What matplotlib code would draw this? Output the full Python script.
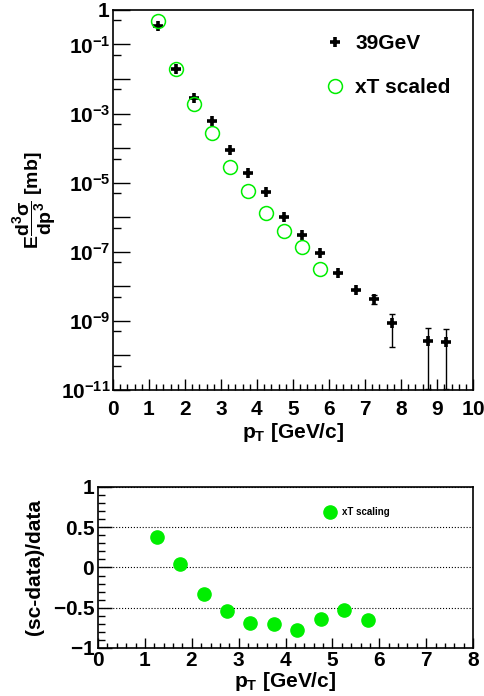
import numpy as np
import matplotlib
matplotlib.use("Agg")
from matplotlib import pyplot as plt
from matplotlib import ticker

plt.rcParams['font.family'] = ['Liberation Sans', 'DejaVu Sans']
plt.rcParams['font.weight'] = 'bold'
plt.rcParams['mathtext.fontset'] = 'custom'
plt.rcParams['mathtext.rm'] = 'Liberation Sans:bold'
plt.rcParams['mathtext.it'] = 'Liberation Sans:bold'
plt.rcParams['mathtext.bf'] = 'Liberation Sans:bold'
plt.rcParams['mathtext.default'] = 'bf'

# measured spectrum at 39 GeV
pt_data = [1.25, 1.75, 2.25, 2.75, 3.25, 3.75, 4.25, 4.75, 5.25, 5.75,
           6.25, 6.75, 7.25, 7.75, 8.75, 9.25]
y_data = [0.34, 0.019, 2.8e-3, 6.0e-4, 8.7e-5, 1.95e-5, 5.5e-6, 1.05e-6,
          3.0e-7, 9.1e-8, 2.5e-8, 7.8e-9, 4.3e-9, 8.7e-10, 2.6e-10, 2.4e-10]
y_err = [0, 0, 0, 0, 0, 0, 0, 0, 0, 0, 0, 0, 1.3e-9, 7.0e-10, 3.6e-10, 3.6e-10]

# xT scaled points
pt_sc = [1.25, 1.75, 2.25, 2.75, 3.25, 3.75, 4.25, 4.75, 5.25, 5.75]
y_sc = [0.47, 0.0196, 1.85e-3, 2.8e-4, 2.8e-5, 5.9e-6, 1.3e-6, 4.0e-7,
        1.4e-7, 3.2e-8]

# relative difference (sc-data)/data
ratio = [0.375, 0.04, -0.33, -0.537, -0.69, -0.705, -0.776, -0.64, -0.53, -0.65]

green = '#00ee00'


def boldnum(v, pos):
    return r'$\mathbf{%g}$' % v


def logfmt(v, pos):
    e = int(round(np.log10(v)))
    if e == 0:
        return r'$\mathbf{1}$'
    if e % 2 == 0:
        return ''
    return r'$\mathbf{10^{%d}}$' % e


fig = plt.figure(figsize=(4.84, 6.96), dpi=100)

# ---- top panel: spectra
ax = fig.add_axes([0.2335, 0.4397, 0.744, 0.546])
lo = np.minimum(np.array(y_err), np.array(y_data) - 1.05e-11)
ax.errorbar(pt_data, y_data, yerr=[lo, y_err], fmt='none', ecolor='k',
            elinewidth=1.0, capsize=2, capthick=1.0)
ax.plot(pt_data, y_data, ls='none', marker='+', ms=7, mew=2.6, color='k',
        label='39GeV')
ax.plot(pt_sc, y_sc, ls='none', marker='o', ms=10, mfc='none', mec=green,
        mew=1.1, label='xT scaled')
ax.set_yscale('log')
ax.set_xlim(0, 10)
ax.set_ylim(1e-11, 1)

ax.yaxis.set_major_locator(ticker.FixedLocator([10.0 ** e for e in range(-11, 1)]))
ax.yaxis.set_minor_locator(ticker.FixedLocator([5 * 10.0 ** e for e in range(-11, 0)]))
ax.yaxis.set_major_formatter(ticker.FuncFormatter(logfmt))
ax.yaxis.set_minor_formatter(ticker.NullFormatter())
ax.xaxis.set_major_locator(ticker.MultipleLocator(1))
ax.xaxis.set_minor_locator(ticker.MultipleLocator(0.2))
ax.xaxis.set_major_formatter(ticker.FuncFormatter(boldnum))
ax.tick_params(axis='y', which='major', direction='in', length=12, width=1,
               labelsize=15, pad=2)
ax.tick_params(axis='y', which='minor', direction='in', length=6, width=1)
ax.tick_params(axis='x', which='major', direction='in', length=8, width=1,
               labelsize=15, pad=7)
ax.tick_params(axis='x', which='minor', direction='in', length=4, width=1)
for s in ax.spines.values():
    s.set_linewidth(1.2)
ax.set_xlabel(r'p$_{T}$ [GeV/c]', fontsize=15, fontweight='bold', labelpad=2)
ax.set_ylabel(r'$E\dfrac{d^{3}\sigma}{dp^{3}}$ [mb]', fontsize=14,
              fontweight='bold', labelpad=1)
ax.legend(loc='upper right', bbox_to_anchor=(0.99, 0.985), frameon=False,
          handletextpad=0.4, labelspacing=1.2, handlelength=1.2,
          prop={'weight': 'bold', 'size': 15})

# ---- bottom panel: ratio
bx = fig.add_axes([0.2025, 0.069, 0.775, 0.2313])
bx.plot(pt_sc, ratio, ls='none', marker='o', ms=9.5, color=green,
        label='xT scaling')
bx.set_xlim(0, 8)
bx.set_ylim(-1, 1)
bx.xaxis.set_major_locator(ticker.MultipleLocator(1))
bx.xaxis.set_minor_locator(ticker.MultipleLocator(0.2))
bx.xaxis.set_major_formatter(ticker.FuncFormatter(boldnum))
bx.yaxis.set_major_locator(ticker.FixedLocator([-1, -0.5, 0, 0.5, 1]))
bx.yaxis.set_major_formatter(ticker.FuncFormatter(boldnum))
bx.yaxis.set_minor_locator(ticker.MultipleLocator(0.1))
bx.grid(axis='y', which='major', ls=':', color='k', lw=0.8)
bx.tick_params(axis='y', which='major', direction='in', length=10, width=1,
               labelsize=15, pad=2)
bx.tick_params(axis='y', which='minor', direction='in', length=5, width=1)
bx.tick_params(axis='x', which='major', direction='in', length=7, width=1,
               labelsize=15, pad=2)
bx.tick_params(axis='x', which='minor', direction='in', length=3.5, width=1)
for s in bx.spines.values():
    s.set_linewidth(1.2)
bx.set_xlabel(r'p$_{T}$ [GeV/c]', fontsize=15, fontweight='bold', labelpad=0)
bx.set_ylabel('(sc-data)/data', fontsize=15, fontweight='bold', labelpad=6)
bx.legend(loc='upper left', bbox_to_anchor=(0.58, 0.93), frameon=False,
          handletextpad=0.6, handlelength=1.2, prop={'weight': 'bold', 'size': 7})

fig.savefig('out.png', dpi=100)
